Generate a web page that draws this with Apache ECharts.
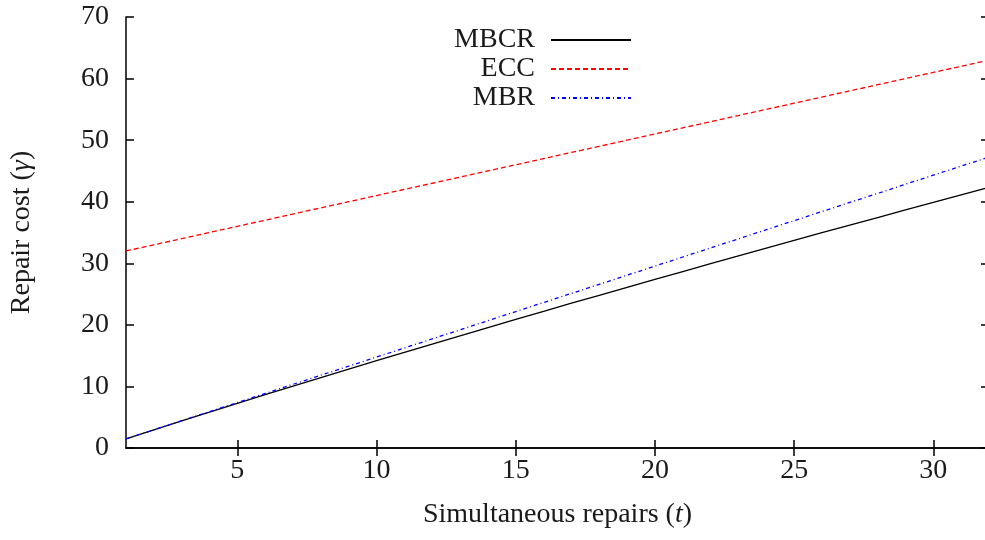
<!DOCTYPE html>
<html>
<head>
<meta charset="utf-8">
<script src="https://cdn.jsdelivr.net/npm/echarts@6/dist/echarts.min.js"></script>
<style>html,body{margin:0;padding:0;background:#fff;overflow:hidden;width:985px;height:540px}#c{width:992px;height:540px}</style>
</head>
<body>
<div id="c"></div>
<script>
var tValues = [1,2,3,4,5,6,7,8,9,10,11,12,13,14,15,16,17,18,19,20,21,22,23,24,25,26,27,28,29,30,31,32];
var mbcr = [1.48,2.94,4.39,5.82,7.25,8.66,10.06,11.44,12.82,14.19,15.55,16.89,18.23,19.56,20.89,22.2,23.51,24.8,26.1,27.38,28.66,29.93,31.2,32.45,33.71,34.96,36.2,37.43,38.67,39.89,41.12,42.33];
var ecc = [32,33,34,35,36,37,38,39,40,41,42,43,44,45,46,47,48,49,50,51,52,53,54,55,56,57,58,59,60,61,62,63];
var mbr = [1.48,2.95,4.43,5.91,7.38,8.86,10.34,11.82,13.29,14.77,16.25,17.72,19.2,20.68,22.15,23.63,25.11,26.58,28.06,29.54,31.02,32.49,33.97,35.45,36.92,38.4,39.88,41.35,42.83,44.31,45.78,47.26];
var xTicks = [5,10,15,20,25,30];
var seriesNames = ['MBCR','ECC','MBR'];

function pairs(vals){ return tValues.map(function(t,i){ return [t, vals[i]]; }); }
var FONT = 'Liberation Serif';
var FS = 28;
var txt = '#1a1a1a';
var axisLine = {lineStyle:{color:'#000', width:1.5}};
var tickStyle = {color:'#000', width:1.5};

var chart = echarts.init(document.getElementById('c'));
function legendFor(name, top){
  return {
    data:[name], right:360, top:top, align:'right', orient:'vertical', padding:0,
    itemWidth:80, itemHeight:3, itemGap:10,
    itemStyle:{opacity:0},
    textStyle:{fontFamily:FONT, fontSize:FS, color:txt, padding:[0,11,0,0]},
    selectedMode:false
  };
}
chart.setOption({
  animation:false,
  backgroundColor:'#fff',
  grid:{left:126, top:17, right:3, bottom:92, containLabel:false},
  legend:[legendFor(seriesNames[0], 26), legendFor(seriesNames[1], 55), legendFor(seriesNames[2], 84)],
  xAxis:[{
    type:'value', min:1, max:32, position:'bottom',
    name:'Simultaneous repairs ({i|t})', nameLocation:'middle', nameGap:53,
    nameTextStyle:{fontFamily:FONT, fontSize:FS, color:txt, rich:{i:{fontFamily:FONT, fontSize:FS, fontStyle:'italic', color:txt}}},
    axisLine:axisLine,
    axisTick:{show:true, inside:true, length:8, customValues:xTicks, lineStyle:tickStyle},
    axisLabel:{customValues:xTicks, fontFamily:FONT, fontSize:FS, color:txt, margin:9},
    splitLine:{show:false}
  },{
    type:'value', min:1, max:32, position:'top',
    axisLine:axisLine,
    axisTick:{show:true, inside:true, length:8, customValues:xTicks, lineStyle:tickStyle},
    axisLabel:{show:false}, splitLine:{show:false}
  }],
  yAxis:[{
    type:'value', min:0, max:70, interval:10, position:'left',
    name:'Repair cost ({i|γ})', nameLocation:'middle', nameGap:90, nameRotate:90,
    nameTextStyle:{fontFamily:FONT, fontSize:FS, color:txt, rich:{i:{fontFamily:FONT, fontSize:FS, fontStyle:'italic', color:txt}}},
    axisLine:{show:true, lineStyle:{color:'#000', width:1.5}},
    axisTick:{show:true, inside:true, length:8, lineStyle:tickStyle},
    axisLabel:{fontFamily:FONT, fontSize:FS, color:txt, margin:17},
    splitLine:{show:false}
  },{
    type:'value', min:0, max:70, interval:10, position:'right',
    axisLine:{show:true, lineStyle:{color:'#000', width:1.5}},
    axisTick:{show:true, inside:true, length:8, lineStyle:tickStyle},
    axisLabel:{show:false}, splitLine:{show:false}
  }],
  series:[
    {name:seriesNames[0], type:'line', data:pairs(mbcr), symbol:'none', color:'#000', lineStyle:{color:'#000', width:1.3, type:'solid'}},
    {name:seriesNames[1], type:'line', data:pairs(ecc), symbol:'none', color:'#ff0000', lineStyle:{color:'#ff0000', width:1.3, type:[5,3]}},
    {name:seriesNames[2], type:'line', data:pairs(mbr), symbol:'none', color:'#0000ff', lineStyle:{color:'#0000ff', width:1.3, type:[4,3,1,3]}}
  ]
});
</script>
</body>
</html>
